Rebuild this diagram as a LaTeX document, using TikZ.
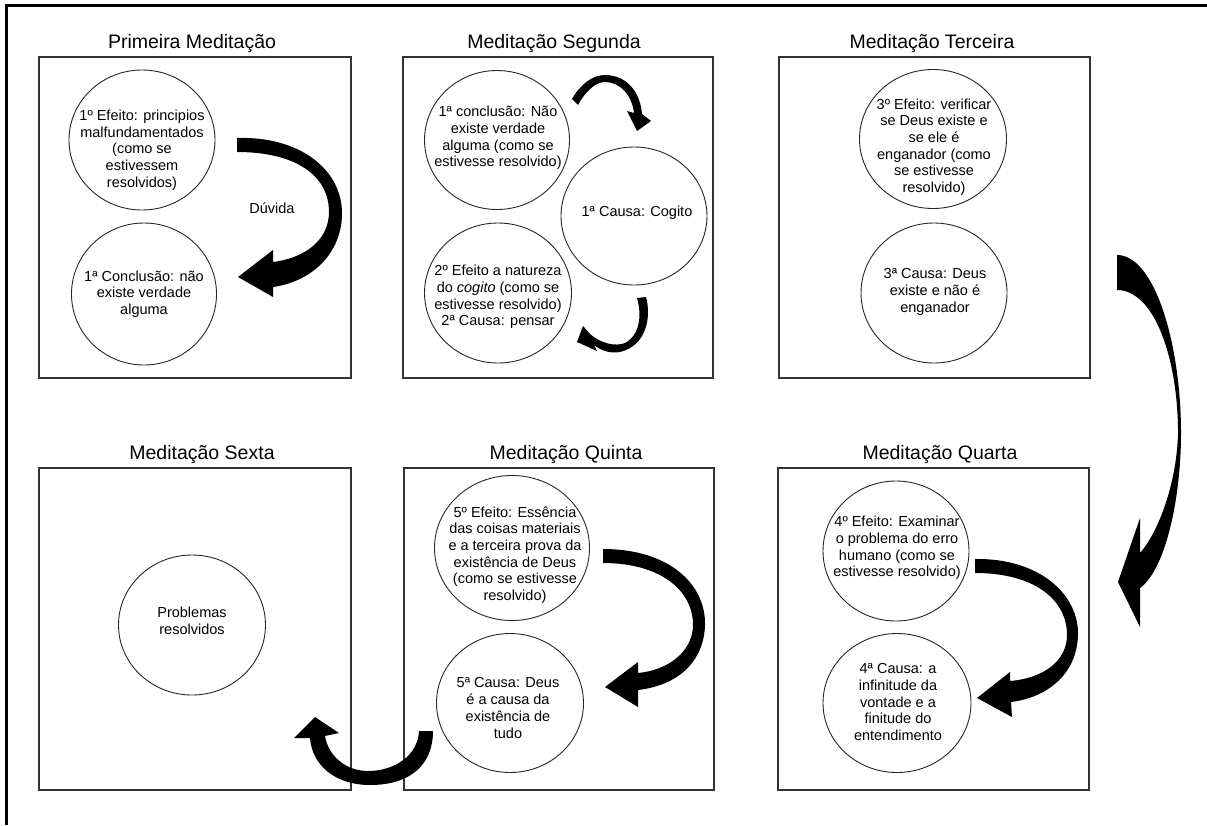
\documentclass[tikz,border=0pt]{standalone}
\usepackage{fontspec}
\setmainfont{Liberation Sans}
\usetikzlibrary{shapes.geometric}
\begin{document}
\begin{tikzpicture}[x=1pt,y=-1pt,
  box/.style={draw=black!80, line width=1.4pt, inner sep=0pt},
  circ/.style={ellipse, draw=black!85, line width=0.9pt, inner sep=0pt},
  txt/.style={align=center, inner sep=0pt, font=\fontsize{14.5}{16.7}\selectfont},
  ttl/.style={anchor=base, inner sep=0pt, font=\fontsize{19.5}{22}\selectfont},
  arr/.style={fill=black, draw=none},
  frame/.style={line width=3pt, draw=black}]
\useasboundingbox (0,0) rectangle (1207,825);
\fill[white] (0,0) rectangle (1207,825);
% outer frame (left and top)
\draw[frame] (6.5,825) -- (6.5,5) -- (1207,5);

% boxes
\node[box, minimum width=312pt, minimum height=321pt] (b1) at (195,217.5) {};
\node[box, minimum width=310pt, minimum height=321pt] (b2) at (558,217.5) {};
\node[box, minimum width=311pt, minimum height=321pt] (b3) at (934.5,217.5) {};
\node[box, minimum width=312pt, minimum height=322pt] (b4) at (195,629) {};
\node[box, minimum width=310pt, minimum height=322pt] (b5) at (559,629) {};
\node[box, minimum width=311pt, minimum height=322pt] (b6) at (933.5,629) {};

% titles
\node[ttl] (t1) at (192,48) {Primeira Meditação};
\node[ttl] (t2) at (554,48) {Meditação Segunda};
\node[ttl] (t3) at (932,48) {Meditação Terceira};
\node[ttl] (t4) at (202,459) {Meditação Sexta};
\node[ttl] (t5) at (566,459) {Meditação Quinta};
\node[ttl] (t6) at (940,459) {Meditação Quarta};

% circles
\node[circ, minimum width=146pt, minimum height=140pt] (c11) at (142,140) {};
\node[circ, minimum width=145pt, minimum height=142pt] (c12) at (144,294) {};
\node[circ, minimum width=145pt, minimum height=139pt] (c21) at (497,140) {};
\node[circ, minimum width=146pt, minimum height=138pt] (c22) at (634,216) {};
\node[circ, minimum width=147pt, minimum height=140pt] (c23) at (498,293) {};
\node[circ, minimum width=147pt, minimum height=139pt] (c31) at (933,139) {};
\node[circ, minimum width=146pt, minimum height=140pt] (c32) at (934,293) {};
\node[circ, minimum width=147pt, minimum height=140pt] (c41) at (192,625) {};
\node[circ, minimum width=155pt, minimum height=145pt] (c51) at (512,548) {};
\node[circ, minimum width=147pt, minimum height=139pt] (c52) at (510,703) {};
\node[circ, minimum width=146pt, minimum height=140pt] (c61) at (896,551) {};
\node[circ, minimum width=148pt, minimum height=139pt] (c62) at (897,703) {};

% circle texts
\node[txt] (x11) at (142,150) {1º Efeito: principios\\malfundamentados\\(como se\\estivessem\\resolvidos)};
\node[txt] (x12) at (144,294) {1ª Conclusão: não\\existe verdade\\alguma};
\node[txt] (x21) at (498,138) {1ª conclusão: Não\\existe verdade\\alguma (como se\\estivesse resolvido)};
\node[txt] (x22) at (637,213) {1ª Causa: Cogito};
\node[txt] (x23) at (498,297) {2º Efeito a natureza\\do \textit{cogito} (como se\\estivesse resolvido)\\2ª Causa: pensar};
\node[txt] (x31) at (934,147) {3º Efeito: verificar\\se Deus existe e\\se ele é\\enganador (como\\se estivesse\\resolvido)};
\node[txt] (x32) at (935,292) {3ª Causa: Deus\\existe e não é\\enganador};
\node[txt] (x41) at (192,621) {Problemas\\resolvidos};
\node[txt] (x51) at (515,555) {5º Efeito: Essência\\das coisas materiais\\e a terceira prova da\\existência de Deus\\(como se estivesse\\resolvido)};
\node[txt] (x52) at (508,708) {5ª Causa: Deus\\é a causa da\\existência de\\tudo};
\node[txt] (x61) at (897,548) {4º Efeito: Examinar\\o problema do erro\\humano (como se\\estivesse resolvido)};
\node[txt] (x62) at (898,702) {4ª Causa: a\\infinitude da\\vontade e a\\finitude do\\entendimento};

% label
\node[txt] (duv) at (272,208) {Dúvida};

% curved arrows
% Box 1
\fill[arr] (237,138) .. controls (300,136) and (343,170) .. (342,215)
  .. controls (341,255) and (310,282) .. (273,287) -- (273,297) -- (238,277) -- (273,250) -- (273,262)
  .. controls (305,258) and (329,240) .. (329,212)
  .. controls (329,175) and (295,152) .. (237,152) -- cycle;
% Box 2 top
\fill[arr] (572,99) .. controls (580,85) and (592,75) .. (605,75)
  .. controls (625,75) and (640,90) .. (642,114) -- (651,121) -- (637,131) -- (627,111) -- (634,113)
  .. controls (632,95) and (620,82) .. (605,82)
  .. controls (595,82) and (585,92) .. (578,105) -- cycle;
% Box 2 bottom
\fill[arr] (637,298) -- (646,297) .. controls (651,315) and (648,345) .. (620,352)
  .. controls (610,354) and (600,350) .. (594,345) -- (597,351) -- (577,342) -- (583,326) -- (590,334)
  .. controls (600,343) and (615,347) .. (625,343)
  .. controls (640,335) and (642,315) .. (637,298) -- cycle;
% Box 5
\fill[arr] (603,549) .. controls (670,549) and (706,585) .. (705,625)
  .. controls (704,660) and (680,685) .. (638,690) -- (638,707) -- (605,687) -- (638,662) -- (638,673)
  .. controls (670,670) and (693,650) .. (693,625)
  .. controls (693,590) and (660,563) .. (603,563) -- cycle;
% Box 6
\fill[arr] (975,559) .. controls (1040,558) and (1079,595) .. (1078,635)
  .. controls (1077,672) and (1050,697) .. (1011,702) -- (1012,717) -- (977,698) -- (1010,672) -- (1010,681)
  .. controls (1045,678) and (1067,660) .. (1067,635)
  .. controls (1067,600) and (1035,573) .. (975,573) -- cycle;
% long right arrow (Terceira -> Quarta)
\fill[arr] (1117,255) .. controls (1155,255) and (1181,345) .. (1181,433)
  .. controls (1181,500) and (1165,570) .. (1140,588) -- (1140,627) -- (1118,582) -- (1140,518) -- (1140,553)
  .. controls (1160,530) and (1177,480) .. (1178,433)
  .. controls (1178,360) and (1155,290) .. (1117,290) -- cycle;
% bottom arrow (Quinta -> Sexta)
\fill[arr] (419,731) -- (433,731) .. controls (433,765) and (410,785) .. (370,785)
  .. controls (335,785) and (312,765) .. (310,738) -- (294,738) -- (315,717) -- (339,733) -- (325,736)
  .. controls (328,755) and (345,771) .. (368,771)
  .. controls (395,771) and (418,755) .. (419,731) -- cycle;
\end{tikzpicture}
\end{document}
